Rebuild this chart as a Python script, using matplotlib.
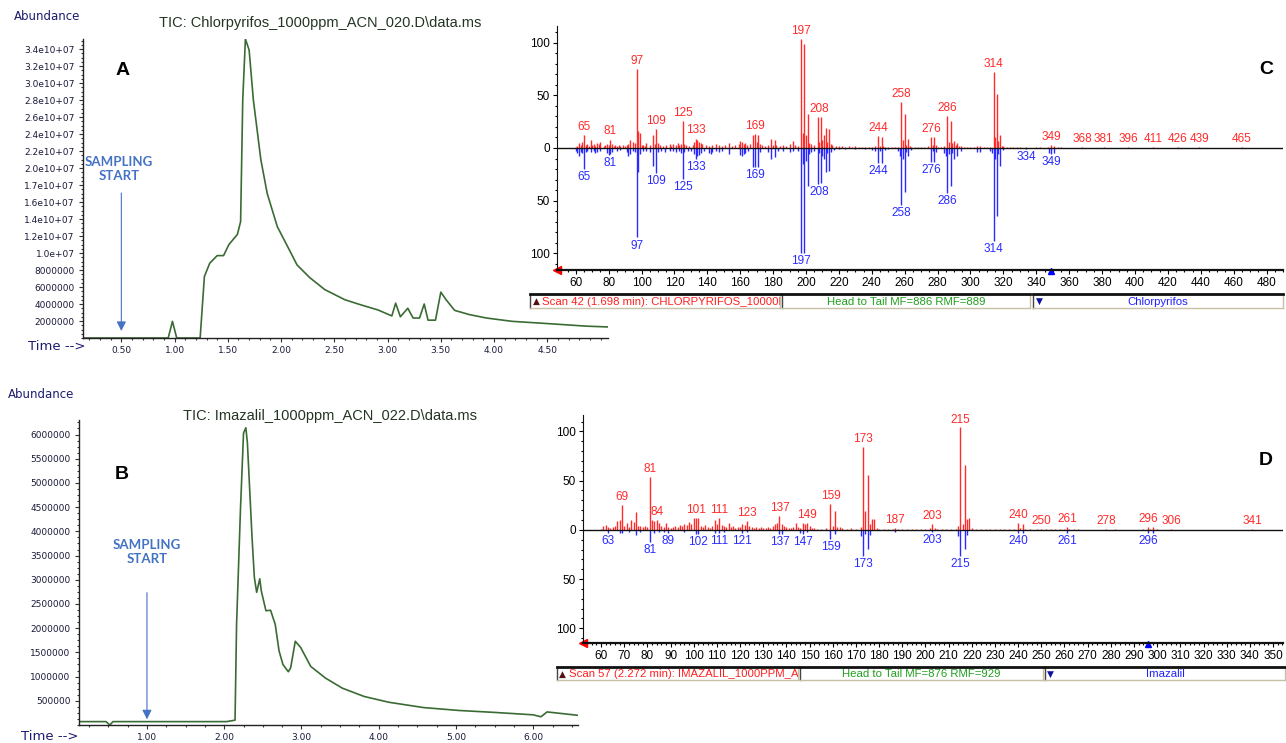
import numpy as np
import matplotlib.pyplot as plt
from matplotlib.ticker import MultipleLocator

W, H = 1286, 743
fig = plt.figure(figsize=(W / 100, H / 100), dpi=100)
plt.rcParams['font.family'] = ['Liberation Sans', 'DejaVu Sans']

# TIC chromatogram A (time in min, abundance in millions)
a_time = [0.14, 0.94, 0.98, 1.02, 1.24, 1.28, 1.33, 1.40, 1.46, 1.51, 1.59, 1.62, 1.64,
          1.665, 1.70, 1.74, 1.81, 1.87, 1.965, 2.06, 2.15, 2.27, 2.41, 2.60, 2.75, 2.91,
          3.04, 3.076, 3.12, 3.19, 3.24, 3.30, 3.344, 3.38, 3.45, 3.50, 3.55, 3.63, 3.77,
          3.93, 4.17, 4.50, 4.86, 5.07]
a_abund = [0, 0, 1.96, 0, 0, 7.25, 8.8, 9.7, 9.7, 11.0, 12.2, 13.7, 28.0,
           35.2, 33.9, 28.0, 21.0, 17.0, 13.1, 10.8, 8.6, 7.1, 5.7, 4.5, 3.9, 3.3,
           2.6, 4.1, 2.5, 3.5, 2.35, 2.35, 4.0, 2.1, 2.1, 5.4, 4.5, 3.25, 2.75,
           2.35, 1.96, 1.7, 1.4, 1.3]
a_yticks = np.arange(2e6, 3.5e7, 2e6)
a_ylabels = ['2000000', '4000000', '6000000', '8000000', '1.0e+07', '1.2e10+07', '1.4e10+07',
             '1.6e10+07', '1.7e10+07', '2.0e10+07', '2.2e10+07', '2.4e10+07', '2.6e10+07',
             '2.8e10+07', '3.0e10+07', '3.2e10+07', '3.4e10+07']
a_xticks = [0.5, 1.0, 1.5, 2.0, 2.5, 3.0, 3.5, 4.0, 4.5]

# TIC chromatogram B
b_time = [0.12, 0.47, 0.52, 0.56, 2.03, 2.14, 2.16, 2.21, 2.25, 2.28, 2.30, 2.36, 2.39,
          2.42, 2.46, 2.48, 2.54, 2.60, 2.66, 2.71, 2.76, 2.83, 2.86, 2.92, 2.99, 3.12,
          3.31, 3.53, 3.81, 4.13, 4.58, 5.04, 5.50, 6.00, 6.10, 6.18, 6.58]
b_abund = [0.07, 0.07, 0.0, 0.07, 0.07, 0.10, 2.08, 4.44, 6.03, 6.14, 5.83, 3.88, 3.05,
           2.74, 3.02, 2.77, 2.36, 2.37, 2.08, 1.53, 1.25, 1.10, 1.18, 1.73, 1.60, 1.21,
           0.97, 0.76, 0.59, 0.47, 0.36, 0.30, 0.26, 0.21, 0.17, 0.27, 0.20]
b_yticks = np.arange(500000, 6000001, 500000)
b_xticks = [1.0, 2.0, 3.0, 4.0, 5.0, 6.0]

# mass spectrum C: scan (red, up) and library Chlorpyrifos (blue, down)
c_scan = {60: 1, 61: 2, 62: 5, 63: 3, 64: 6, 65: 12, 66: 3, 67: 4, 68: 2, 69: 8, 70: 3, 71: 4,
          72: 2, 73: 5, 74: 4, 75: 6, 77: 2, 78: 3, 79: 4, 80: 3, 81: 8, 82: 4, 83: 2, 84: 3,
          85: 2, 86: 3, 87: 2, 89: 3, 90: 2, 91: 3, 92: 4, 93: 8, 95: 6, 96: 5, 97: 75, 98: 16,
          99: 14, 100: 3, 101: 3, 102: 2, 103: 5, 105: 3, 107: 12, 108: 4, 109: 18, 110: 5,
          111: 3, 113: 2, 115: 3, 117: 4, 118: 2, 119: 4, 121: 3, 122: 5, 123: 3, 124: 4,
          125: 26, 126: 4, 127: 3, 129: 2, 131: 3, 132: 6, 133: 9, 134: 8, 135: 6, 136: 5,
          137: 4, 139: 3, 141: 2, 143: 3, 145: 4, 147: 3, 149: 2, 151: 3, 153: 5, 155: 2,
          157: 3, 159: 4, 160: 7, 161: 6, 162: 4, 163: 5, 164: 3, 166: 4, 168: 12, 169: 13,
          170: 6, 171: 12, 172: 4, 173: 3, 175: 2, 177: 3, 179: 9, 180: 3, 181: 8, 182: 3,
          184: 2, 186: 3, 188: 2, 190: 4, 192: 7, 193: 3, 195: 2, 197: 104, 198: 14, 199: 99,
          200: 12, 201: 32, 202: 5, 203: 4, 205: 3, 207: 29, 208: 6, 209: 29, 210: 8, 211: 12,
          212: 19, 213: 6, 214: 18, 215: 4, 216: 3, 218: 2, 220: 1.5, 222: 2, 224: 1, 226: 2,
          228: 1, 230: 2, 232: 1, 234: 1, 236: 1, 238: 1, 240: 1, 242: 2, 244: 11, 245: 2,
          246: 10, 247: 2, 248: 1, 250: 1, 252: 1, 254: 1, 256: 1, 258: 44, 259: 8, 260: 32,
          261: 3, 262: 9, 263: 2, 264: 1, 266: 1, 268: 1, 270: 1, 272: 1, 274: 2, 276: 10,
          277: 3, 278: 10, 279: 3, 280: 1, 282: 1, 284: 2, 286: 30, 287: 6, 288: 26, 289: 5,
          290: 7, 291: 3, 292: 5, 293: 2, 294: 2, 296: 1, 298: 1, 300: 1, 302: 1, 304: 2,
          306: 2, 308: 1, 310: 1, 312: 1, 314: 72, 315: 10, 316: 51, 317: 7, 318: 12, 319: 2,
          320: 2, 322: 1, 324: 1, 326: 1, 328: 1, 330: 1, 334: 1, 340: 0.5, 342: 1, 347: 1,
          349: 3, 351: 2, 353: 1, 355: 0.5, 368: 0.8, 381: 0.8, 396: 0.8, 411: 0.8, 426: 0.8,
          439: 0.8, 465: 0.8}
c_ref = {60: -3, 61: -5, 62: -8, 63: -4, 64: -5, 65: -20, 66: -4, 67: -3, 69: -4, 71: -3,
         72: -5, 73: -4, 75: -3, 79: -5, 80: -7, 81: -6, 82: -4, 85: -3, 87: -2, 91: -4,
         92: -8, 93: -6, 95: -3, 96: -4, 97: -85, 98: -23, 99: -6, 101: -3, 103: -3, 105: -4,
         107: -17, 109: -24, 110: -4, 112: -3, 114: -4, 117: -3, 119: -3, 121: -4, 123: -3,
         124: -5, 125: -29, 126: -4, 128: -3, 130: -3, 132: -6, 133: -10, 134: -8, 135: -7,
         136: -5, 138: -3, 141: -5, 142: -6, 143: -4, 145: -3, 147: -4, 149: -3, 153: -6,
         160: -7, 161: -8, 162: -6, 163: -5, 165: -3, 168: -18, 169: -18, 171: -18, 172: -4,
         177: -4, 179: -10, 181: -9, 183: -3, 186: -3, 190: -4, 192: -3, 195: -3, 197: -100,
         198: -15, 199: -100, 200: -12, 201: -36, 202: -6, 203: -4, 205: -3, 207: -34,
         208: -5, 209: -33, 210: -8, 211: -10, 212: -23, 213: -5, 214: -22, 215: -4, 217: -2,
         220: -1, 224: -1, 230: -1, 236: -1, 240: -2, 242: -3, 244: -14, 245: -3, 246: -14,
         248: -2, 250: -1, 256: -3, 257: -8, 258: -54, 259: -10, 260: -42, 261: -4, 262: -8,
         264: -2, 276: -13, 277: -3, 278: -13, 279: -4, 284: -5, 285: -8, 286: -43, 287: -6,
         288: -36, 289: -5, 290: -10, 292: -8, 294: -3, 304: -4, 306: -4, 312: -3, 313: -5,
         314: -88, 315: -10, 316: -65, 317: -6, 318: -17, 320: -2, 334: -1, 348: -5, 349: -6,
         351: -5}
c_scan_labels = [65, 81, 97, 109, 125, 133, 169, 197, 208, 244, 258, 276, 286, 314, 349,
                 368, 381, 396, 411, 426, 439, 465]
c_ref_labels = [65, 81, 97, 109, 125, 133, 169, 197, 208, 244, 258, 276, 286, 314, 334, 349]

# mass spectrum D: scan (red) and library Imazalil (blue)
d_scan = {60: 1, 61: 4, 62: 5, 63: 3, 64: 2, 65: 3, 66: 4, 67: 9, 68: 10, 69: 25, 70: 4, 71: 7,
          72: 3, 73: 10, 74: 8, 75: 18, 76: 4, 77: 4, 78: 3, 79: 4, 80: 3, 81: 54, 82: 10, 83: 9,
          84: 10, 85: 7, 86: 4, 87: 3, 88: 7, 89: 3, 90: 2, 91: 3, 92: 4, 93: 3, 94: 5, 95: 4,
          96: 6, 97: 5, 98: 8, 99: 6, 100: 12, 101: 12, 102: 12, 103: 4, 104: 3, 105: 5,
          106: 3, 107: 2, 108: 4, 109: 10, 110: 6, 111: 12, 112: 5, 113: 4, 114: 3, 115: 7,
          116: 3, 117: 4, 118: 2, 119: 3, 120: 3, 121: 6, 122: 5, 123: 9, 124: 4, 125: 3,
          126: 2, 127: 3, 128: 2, 129: 3, 130: 2, 131: 2, 132: 3, 133: 2, 134: 4, 135: 6,
          136: 7, 137: 14, 138: 6, 139: 4, 140: 3, 141: 2, 142: 2, 143: 3, 144: 7, 145: 3,
          146: 2, 147: 7, 148: 6, 149: 7, 150: 4, 151: 2, 152: 2, 153: 1, 155: 1, 157: 2,
          159: 26, 160: 4, 161: 19, 162: 3, 163: 3, 164: 2, 166: 1, 168: 2, 170: 1, 172: 3,
          173: 84, 174: 19, 175: 56, 176: 6, 177: 11, 178: 11, 179: 2, 180: 1, 182: 1, 184: 1,
          186: 1, 187: 2, 188: 1, 190: 1, 192: 1, 194: 1, 196: 1, 198: 1, 200: 1, 202: 2,
          203: 6, 204: 2, 205: 1, 207: 1, 209: 1, 211: 1, 213: 1, 214: 4, 215: 104, 216: 6,
          217: 66, 218: 11, 219: 12, 220: 2, 222: 1, 224: 1, 226: 1, 228: 1, 230: 1, 232: 1,
          234: 1, 236: 1, 238: 1, 240: 7, 241: 2, 242: 6, 243: 1, 245: 1, 248: 1, 250: 1,
          252: 1, 254: 1, 256: 1, 258: 1, 260: 1, 261: 3, 262: 1, 264: 1, 266: 1, 278: 1,
          282: 1, 294: 1, 296: 3, 297: 1, 298: 3, 300: 1, 306: 1, 341: 1}
d_ref = {63: -3, 68: -3, 69: -3, 72: -2, 75: -5, 77: -2, 81: -12, 83: -3, 85: -2, 87: -2,
         89: -3, 96: -2, 101: -4, 102: -4, 109: -3, 111: -3, 113: -2, 121: -3, 123: -2,
         137: -4, 138: -4, 146: -3, 147: -4, 149: -2, 159: -9, 161: -4, 172: -6, 173: -27,
         174: -4, 175: -19, 176: -5, 187: -2, 203: -2, 214: -6, 215: -27, 217: -19, 218: -5,
         240: -3, 242: -3, 261: -3, 296: -3, 298: -3}
d_scan_labels = [69, 81, 84, 101, 111, 123, 137, 149, 159, 173, 187, 203, 215, 240, 250, 261,
                 278, 296, 306, 341]
d_ref_labels = [63, 81, 89, 102, 111, 121, 137, 147, 159, 173, 203, 215, 240, 261, 296]

GREEN = '#3b6b34'
NAVY = '#1c1c70'
TICKC = '#1a1a3a'
ARROWC = '#4472c4'
RED = '#ff2a2a'
BLUE = '#2a2aff'


def axes_px(left, top, right, bottom):
    return fig.add_axes([left / W, 1 - bottom / H, (right - left) / W, (bottom - top) / H])


def ftext(px, py, s, **kw):
    fig.text(px / W, 1 - py / H, s, **kw)


def tic_axes(ax):
    for s in ['top', 'right']:
        ax.spines[s].set_visible(False)
    for s in ['left', 'bottom']:
        ax.spines[s].set_color('#222222')
        ax.spines[s].set_linewidth(1)
    ax.tick_params(which='major', length=3, width=0.8, colors='#333333', labelcolor=TICKC,
                   labelsize=6.5, pad=3)
    ax.tick_params(which='minor', length=1.5, width=0.8, colors='#333333')
    for lb in ax.get_xticklabels() + ax.get_yticklabels():
        lb.set_family('DejaVu Sans')


# ---------- A ----------
axA = axes_px(83, 39, 608, 338)
axA.plot(a_time, np.array(a_abund) * 1e6, color=GREEN, lw=1.2)
axA.set_xlim(0.14, 5.07)
axA.set_ylim(0, 3.52e7)
axA.set_yticks(a_yticks)
axA.set_yticklabels(a_ylabels)
axA.set_xticks(a_xticks)
axA.set_xticklabels(['%.2f' % t for t in a_xticks])
axA.xaxis.set_minor_locator(MultipleLocator(0.1))
axA.yaxis.set_minor_locator(MultipleLocator(5e5))
tic_axes(axA)
axA.annotate('', xy=(0.5, 0.5e6), xytext=(0.5, 17.4e6),
             arrowprops=dict(arrowstyle='-|>', color=ARROWC, lw=0.8, mutation_scale=14))
axA.text(0.48, 19.9e6, 'SAMPLING\nSTART', color=ARROWC, ha='center', va='center',
         fontsize=9.5, fontweight='bold', family='Lato', linespacing=1.25)
axA.text(0.51, 31.5e6, 'A', fontsize=14, fontweight='bold', ha='center', va='center')

ftext(14, 16, 'Abundance', color=NAVY, fontsize=8.5, family='DejaVu Sans', va='center')
ftext(320, 23, 'TIC: Chlorpyrifos_1000ppm_ACN_020.D\\data.ms', color='#243424',
      fontsize=10.5, ha='center', va='center')
ftext(28, 346, 'Time -->', color=NAVY, fontsize=9.5, family='DejaVu Sans', va='center')

# ---------- B ----------
axB = axes_px(79, 420, 578, 725)
axB.plot(b_time, np.array(b_abund) * 1e6, color=GREEN, lw=1.2)
axB.set_xlim(0.12, 6.58)
axB.set_ylim(0, 6.3e6)
axB.set_yticks(b_yticks)
axB.set_yticklabels(['%d' % v for v in b_yticks])
axB.set_xticks(b_xticks)
axB.set_xticklabels(['%.2f' % t for t in b_xticks])
axB.xaxis.set_minor_locator(MultipleLocator(0.25))
axB.yaxis.set_minor_locator(MultipleLocator(1.25e5))
tic_axes(axB)
axB.annotate('', xy=(1.0, 0.06e6), xytext=(1.0, 2.79e6),
             arrowprops=dict(arrowstyle='-|>', color=ARROWC, lw=0.8, mutation_scale=14))
axB.text(1.0, 3.57e6, 'SAMPLING\nSTART', color=ARROWC, ha='center', va='center',
         fontsize=9.5, fontweight='bold', family='Lato', linespacing=1.25)
axB.text(0.67, 5.17e6, 'B', fontsize=14, fontweight='bold', ha='center', va='center')

ftext(8, 394, 'Abundance', color=NAVY, fontsize=8.5, family='DejaVu Sans', va='center')
ftext(330, 416, 'TIC: Imazalil_1000ppm_ACN_022.D\\data.ms', color='#243424',
      fontsize=10.5, ha='center', va='center')
ftext(21, 737, 'Time -->', color=NAVY, fontsize=9.5, family='DejaVu Sans', va='center')


# ---------- spectra ----------
def spectrum(ax, scan, ref, scan_labels, ref_labels, xlim, ylim, major, minor, mark):
    smz, sab = list(scan.keys()), list(scan.values())
    rmz, rab = list(ref.keys()), list(ref.values())
    ax.vlines(smz, 0, sab, color=RED, lw=1)
    ax.vlines(rmz, 0, rab, color=BLUE, lw=1)
    ax.axhline(0, color='#111111', lw=1)
    ax.set_xlim(*xlim)
    ax.set_ylim(*ylim)
    for m in scan_labels:
        top = max(a for x, a in zip(smz, sab) if abs(x - m) <= 2)
        ax.text(m, top + 2, str(m), color=RED, fontsize=8.5, ha='center', va='bottom')
    for m in ref_labels:
        bot = min(a for x, a in zip(rmz, rab) if abs(x - m) <= 2)
        ax.text(m, bot - 2, str(m), color=BLUE, fontsize=8.5, ha='center', va='top')
    ax.set_yticks([-100, -50, 0, 50, 100])
    ax.set_yticklabels(['100', '50', '0', '50', '100'])
    ax.yaxis.set_minor_locator(MultipleLocator(10))
    ax.xaxis.set_major_locator(MultipleLocator(major))
    ax.xaxis.set_minor_locator(MultipleLocator(minor))
    for s in ['top', 'right']:
        ax.spines[s].set_visible(False)
    ax.spines['left'].set_color('#111111')
    ax.spines['bottom'].set_color('#111111')
    ax.spines['bottom'].set_linewidth(1.6)
    ax.tick_params(which='major', length=3, width=0.8, labelsize=8.5, pad=2)
    ax.tick_params(which='minor', length=1.5, width=0.8)
    ax.plot([xlim[0]], [ylim[0]], marker='<', color='red', ms=6, clip_on=False)
    ax.plot([mark], [ylim[0] - 1], marker='^', color='blue', ms=5, clip_on=False)


axC = axes_px(557, 26, 1283, 270)
spectrum(axC, c_scan, c_ref, c_scan_labels, c_ref_labels, (48.6, 490), (-116, 116), 20, 5, 349)
axD = axes_px(583, 415, 1283, 643)
spectrum(axD, d_scan, d_ref, d_scan_labels, d_ref_labels, (52.2, 354.3), (-115, 116.7), 10, 2, 296)

ftext(1266, 70, 'C', fontsize=14, fontweight='bold', ha='center', va='center')
ftext(1266, 460, 'D', fontsize=14, fontweight='bold', ha='center', va='center')


def info_box(left, top, right, bottom, text, color, where, tri=None):
    bx = axes_px(left, top, right, bottom)
    bx.set_xlim(0, 1)
    bx.set_ylim(0, 1)
    bx.set_xticks([])
    bx.set_yticks([])
    for s in bx.spines.values():
        s.set_color('#c8bfa8')
        s.set_linewidth(1)
    bx.spines['top'].set_color('#111111')
    bx.spines['top'].set_linewidth(2)
    bx.spines['left'].set_color('#444444')
    x0 = 0.0
    if tri is not None:
        bx.text(0.01, 0.45, tri, color='#551010' if tri == '▲' else '#1010a0', fontsize=6.5,
                family='DejaVu Sans', ha='left', va='center')
        x0 = 0.05
    if where == 'left':
        bx.text(x0, 0.45, text, color=color, fontsize=8.2, ha='left', va='center', clip_on=True)
    else:
        bx.text(0.5, 0.45, text, color=color, fontsize=8.2, ha='center', va='center',
                clip_on=True)


info_box(530, 294, 780, 308, 'Scan 42 (1.698 min): CHLORPYRIFOS_10000P', '#ff2020', 'left', '▲')
info_box(782, 294, 1030, 308, 'Head to Tail MF=886 RMF=889', '#20a020', 'center')
info_box(1033, 294, 1283, 308, 'Chlorpyrifos', '#2020ff', 'center', '▼')

info_box(557, 667, 798, 680, 'Scan 57 (2.272 min): IMAZALIL_1000PPM_ACN_022', '#ff2020', 'left', '▲')
info_box(800, 667, 1043, 680, 'Head to Tail MF=876 RMF=929', '#20a020', 'center')
info_box(1045, 667, 1285, 680, 'Imazalil', '#2020ff', 'center', '▼')

fig.savefig('out.png', dpi=100)
